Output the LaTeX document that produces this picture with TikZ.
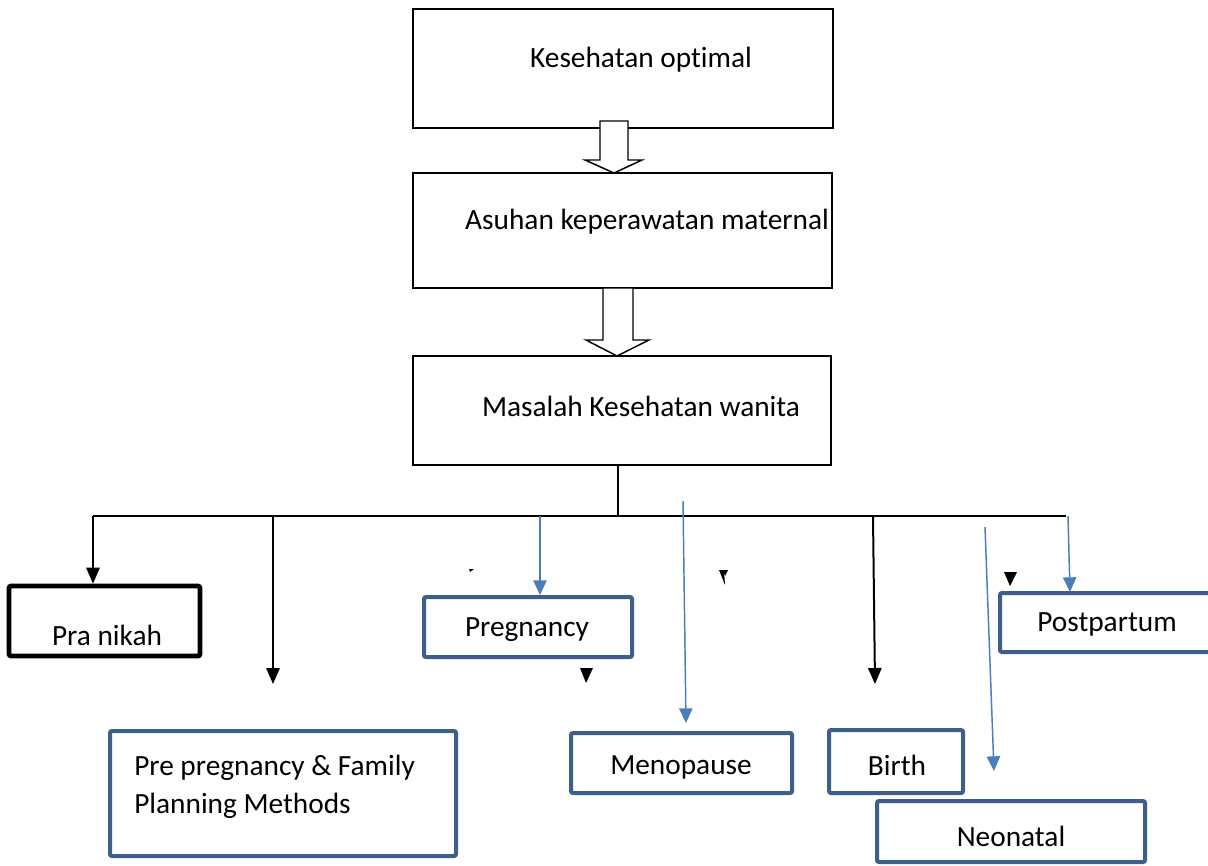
\documentclass[tikz,border=0pt]{standalone}
\usepackage{fontspec}
\setmainfont[Ligatures=NoCommon]{Carlito}
\usetikzlibrary{arrows.meta,fit}
\definecolor{boxblue}{HTML}{3E5F8A}
\definecolor{arrblue}{HTML}{4A7EBB}
\tikzset{
  blackbox/.style={draw=black, line width=1.1pt, inner sep=0pt, fill=none},
  bluebox/.style={draw=boxblue, line width=3pt, rounded corners=1.5pt, inner sep=0pt},
  thickbox/.style={draw=black, line width=3.5pt, rounded corners=1.5pt, inner sep=0pt},
  txt/.style={inner sep=0pt, font=\fontsize{22}{26}\selectfont},
  barr/.style={draw=black, line width=1.5pt, -{Triangle[length=12pt,width=10pt]}},
  uarr/.style={draw=arrblue, line width=1.1pt, -{Triangle[length=11pt,width=10pt]}},
  blockarr/.style={draw=black, line width=1.1pt, fill=white, line join=miter},
  busline/.style={draw=black, line width=1.1pt}
}
\begin{document}
\begin{tikzpicture}[x=0.75pt,y=-0.75pt]
\useasboundingbox[fill=white] (0,0) rectangle (1208,865);
% top boxes
\node[blackbox, fit={(413,9) (833,128)}] (k) {};
\node[txt] (kt) at (641,60) {Kesehatan optimal};
\node[blackbox, fit={(413,173) (832,288)}] (a) {};
\node[txt] (at) at (647,222) {Asuhan keperawatan maternal};
\node[blackbox, fit={(413,356) (831,465)}] (m) {};
\node[txt] (mt) at (641,406) {Masalah Kesehatan wanita};
% block arrows
\draw[blockarr] (600,121) -- (628,121) -- (628,160) -- (642,160) -- (614,173) -- (585,160) -- (600,160) -- cycle;
\draw[blockarr] (603,288) -- (633,288) -- (633,340) -- (649,340) -- (617,356) -- (586,340) -- (603,340) -- cycle;
% bus
\coordinate (mb) at (618,465);
\coordinate (bj) at (618,516);
\coordinate (bl) at (93,516);
\coordinate (br) at (1066,516);
\draw[busline] (m.south -| mb) -- (bj);
\draw[busline] (bl) -- (br);
% lower boxes
\node[thickbox, fit={(9,586) (200,656)}] (pn) {};
\node[txt] (pnt) at (107,635) {Pra nikah};
\node[bluebox, fit={(110,731) (456,856)}] (pp) {};
\node[txt, align=left, anchor=west, font=\fontsize{22}{28.5}\selectfont] (ppt) at (134,787) {Pre pregnancy \& Family\\Planning Methods};
\node[bluebox, fit={(424,597) (632,657)}] (pg) {};
\node[txt] (pgt) at (527,630) {Pregnancy};
\node[bluebox, fit={(571,733) (792,793)}] (mp) {};
\node[txt] (mpt) at (681,767) {Menopause};
\node[bluebox, fit={(829,730) (963,793)}] (bi) {};
\node[txt] (bit) at (897,765) {Birth};
\node[bluebox, fit={(877,801) (1145,862)}] (ne) {};
\node[txt] (net) at (1011,836) {Neonatal};
\node[bluebox, fit={(1000,593) (1225,652)}] (po) {};
\node[txt] (pot) at (1107,624) {Postpartum};
% black connectors
\draw[barr] (bl) -- (bl |- pn.north);
\coordinate (b2) at (273,516);
\coordinate (e2) at (273,684);
\draw[barr] (b2) -- (e2);
\coordinate (b6) at (873,516);
\coordinate (e6) at (875,684);
\draw[barr] (b6) -- (e6);
% blue connectors
\coordinate (b3) at (540,516);
\draw[uarr] (b3) -- (b3 |- pg.north);
\coordinate (b4) at (683,501);
\coordinate (e4) at (686,723);
\draw[uarr] (b4) -- (e4);
\coordinate (b5) at (985,527);
\coordinate (e5) at (994,771);
\draw[uarr] (b5) -- (e5);
\coordinate (b7) at (1068,516);
\coordinate (e7) at (1070,592);
\draw[uarr] (b7) -- (e7);
% stray arrowhead fragments
\fill[black] (580,668) -- (593,668) -- (586,683) -- cycle;
\fill[black] (1004,572) -- (1017,572) -- (1010,586) -- cycle;
\fill[black] (719,570) -- (724,570) -- (725,585) -- cycle;
\fill[black] (723,570) -- (728,570) -- (725,576) -- cycle;
\fill[black] (469,569) -- (474,569) -- (470,572) -- cycle;
\end{tikzpicture}
\end{document}
